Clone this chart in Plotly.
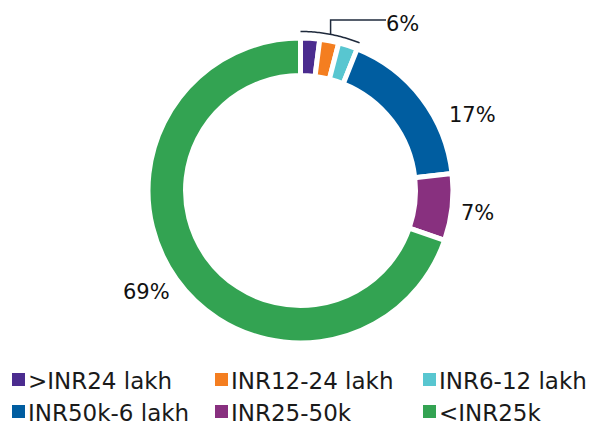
import numpy as np
import plotly.graph_objects as go

# ---- data ----
labels = [">INR24 lakh", "INR12-24 lakh", "INR6-12 lakh", "INR50k-6 lakh", "INR25-50k", "<INR25k"]
values = [2, 2, 2, 17, 7, 69]          # percent shares
colors = ["#4B2C8F", "#F47E20", "#58C6D0", "#005DA0", "#88307F", "#33A352"]
grouped_first = 3  # first three small slices share one label

W, H = 597, 425

def px(x):
    return x / W

def py(y):
    return (H - y) / H

# pie geometry (pixels)
cx, cy, R = 300.5, 190.5, 152.5

fig = go.Figure()
fig.add_trace(go.Pie(
    labels=labels,
    values=values,
    marker=dict(colors=colors, line=dict(color="white", width=5)),
    hole=0.754,
    sort=False,
    direction="clockwise",
    rotation=0,
    textinfo="none",
    hoverinfo="label+percent",
    showlegend=False,
    domain=dict(x=[px(cx - R), px(cx + R)], y=[py(cy + R), py(cy - R)]),
))

total = sum(values)
font_lbl = dict(family="DejaVu Sans", size=21, color="#111111")

# percentage labels
label_items = [
    (f"{sum(values[:grouped_first])}%", 402, 24),
    (f"{values[3]}%", 472, 115),
    (f"{values[4]}%", 478, 213),
    (f"{values[5]}%", 146, 292),
]
for txt, x, y in label_items:
    fig.add_annotation(text=txt, x=px(x), y=py(y), xref="paper", yref="paper",
                       showarrow=False, font=font_lbl, xanchor="center", yanchor="middle")

# bracket arc over the grouped small slices
end_ang = np.deg2rad(sum(values[:grouped_first]) / total * 360)
angs = np.linspace(0, end_ang, 40)
ra = 159
pts = [(cx + ra * np.sin(a), cy - ra * np.cos(a)) for a in angs]
path = "M " + " L ".join(f"{px(x):.5f},{py(y):.5f}" for x, y in pts)
line_col = "#1F2A3C"
fig.add_shape(type="path", path=path, xref="paper", yref="paper",
              line=dict(color=line_col, width=1.5))
mid = end_ang / 2
mx, my = cx + ra * np.sin(mid), cy - ra * np.cos(mid)
fig.add_shape(type="path", xref="paper", yref="paper",
              path=f"M {px(mx):.5f},{py(my):.5f} L {px(mx):.5f},{py(20):.5f} L {px(386):.5f},{py(20):.5f}",
              line=dict(color=line_col, width=1.5))

# custom legend (two rows, three columns)
leg_sq_x = [12, 215, 423]
leg_row_y = [379.5, 411.5]
sq = 13
font_leg = dict(family="DejaVu Sans", size=23, color="#1A1A1A")
for i, (lab, col) in enumerate(zip(labels, colors)):
    r, c = divmod(i, 3)
    x0 = leg_sq_x[c]
    yc = leg_row_y[r]
    fig.add_shape(type="rect", xref="paper", yref="paper",
                  x0=px(x0), x1=px(x0 + sq), y0=py(yc + sq / 2), y1=py(yc - sq / 2),
                  fillcolor=col, line=dict(width=0))
    fig.add_annotation(text=lab.replace("<", "&lt;").replace(">", "&gt;"),
                       x=px(x0 + sq + 1), y=py(yc + 1), xref="paper", yref="paper",
                       showarrow=False, font=font_leg, xanchor="left", yanchor="middle")

fig.update_layout(
    width=W, height=H,
    margin=dict(l=0, r=0, t=0, b=0),
    paper_bgcolor="white",
    plot_bgcolor="white",
    showlegend=False,
)

fig.write_html("out.html",
               config={"displayModeBar": False},
               post_script="document.body.style.margin='0';document.body.style.padding='0';")
